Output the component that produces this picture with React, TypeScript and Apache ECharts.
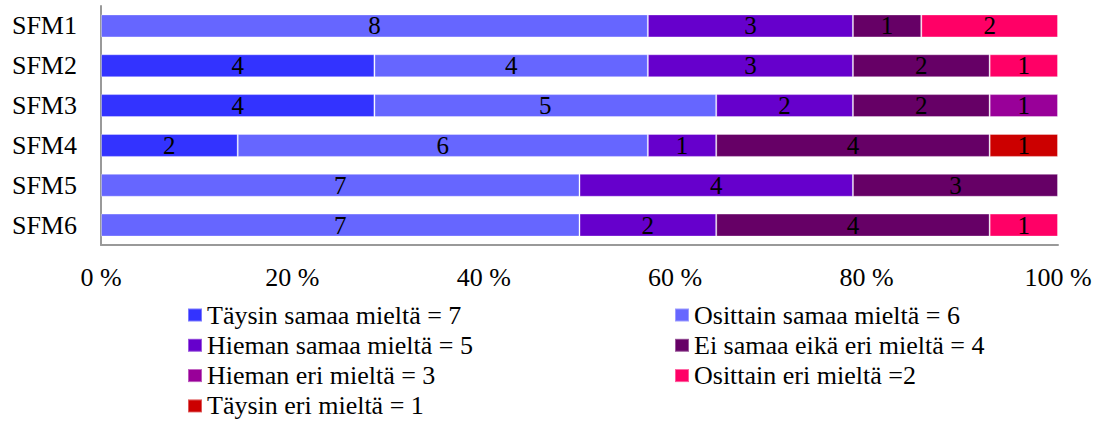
import React, { useEffect, useRef } from "react";
import * as echarts from "echarts";

const categories = ["SFM1", "SFM2", "SFM3", "SFM4", "SFM5", "SFM6"];
const seriesNames = [
  "Täysin samaa mieltä = 7",
  "Osittain samaa mieltä = 6",
  "Hieman samaa mieltä = 5",
  "Ei samaa eikä eri mieltä = 4",
  "Hieman eri mieltä = 3",
  "Osittain eri mieltä =2",
  "Täysin eri mieltä = 1",
];
const colors = ["#3333FF", "#6666FF", "#6600CC", "#660066", "#990099", "#FF0066", "#CC0000"];
const taysinSamaa = [0, 4, 4, 2, 0, 0];
const osittainSamaa = [8, 4, 5, 6, 7, 7];
const hiemanSamaa = [3, 3, 2, 1, 4, 2];
const eiSamaaEikaEri = [1, 2, 2, 4, 3, 4];
const hiemanEri = [0, 0, 1, 0, 0, 0];
const osittainEri = [2, 1, 0, 0, 0, 1];
const taysinEri = [0, 0, 0, 1, 0, 0];
const xTicks = [0, 20, 40, 60, 80, 100];

const allCounts = [taysinSamaa, osittainSamaa, hiemanSamaa, eiSamaaEikaEri, hiemanEri, osittainEri, taysinEri];
const FONT = "Liberation Serif";

export default function App() {
  const ref = useRef<HTMLDivElement>(null);
  useEffect(() => {
    if (!ref.current) return;
    const chart = echarts.init(ref.current, undefined, { renderer: "svg" });
    const totals = categories.map((_, i) => allCounts.reduce((s, arr) => s + arr[i], 0));
    const series = allCounts.map((arr, si) => ({
      name: seriesNames[si],
      type: "bar",
      stack: "total",
      barWidth: 23,
      itemStyle: { color: colors[si], borderColor: "rgba(255,255,255,0.35)", borderWidth: 1 },
      label: {
        show: true,
        position: "inside",
        color: "#000",
        fontFamily: FONT,
        fontSize: 25,
        formatter: (p: any) => String(arr[p.dataIndex]),
      },
      data: arr.map((v, i) => (v === 0 ? "-" : (v / totals[i]) * 100)),
    }));
    const legendCommon = {
      orient: "vertical",
      top: 302,
      height: 140,
      padding: 0,
      itemWidth: 14,
      itemHeight: 13,
      itemGap: 4.3,
      icon: "rect",
      textStyle: { color: "#000", fontSize: 26, fontFamily: FONT, lineHeight: 26 },
    };
    chart.setOption({
      animation: false,
      textStyle: { fontFamily: FONT },
      grid: { left: 101, right: 38, top: 6, bottom: 176, containLabel: false },
      xAxis: {
        type: "value",
        min: xTicks[0],
        max: xTicks[xTicks.length - 1],
        interval: 20,
        axisLine: { show: true, lineStyle: { color: "#999", width: 2 } },
        axisTick: { show: false },
        splitLine: { show: false },
        axisLabel: { color: "#000", fontSize: 26, fontFamily: FONT, margin: 19, formatter: "{value} %" },
      },
      yAxis: {
        type: "category",
        inverse: true,
        data: categories,
        axisLine: { show: true, lineStyle: { color: "#999", width: 2 } },
        axisTick: { show: false },
        axisLabel: { color: "#000", fontSize: 26, fontFamily: FONT, margin: 24 },
      },
      legend: [
        { ...legendCommon, left: 187, data: [seriesNames[0], seriesNames[2], seriesNames[4], seriesNames[6]] },
        { ...legendCommon, left: 674, data: [seriesNames[1], seriesNames[3], seriesNames[5]] },
      ],
      series,
    });
    return () => chart.dispose();
  }, []);
  return (
    <div
      ref={ref}
      style={{ position: "absolute", left: 0, top: 0, width: 1096, height: 421, background: "#fff" }}
    />
  );
}
